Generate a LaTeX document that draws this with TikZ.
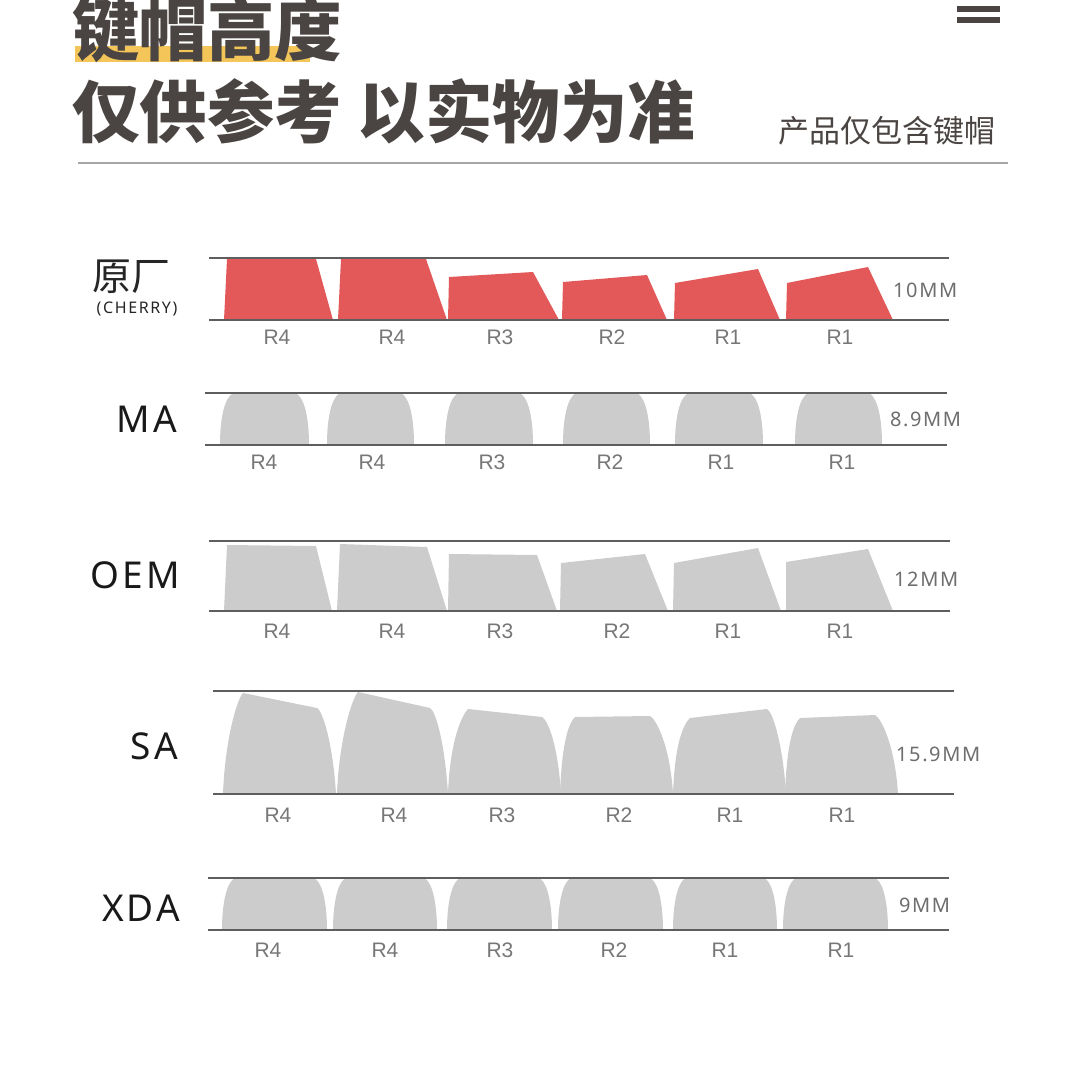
\documentclass[tikz,border=0pt]{standalone}
\usepackage{fontspec}
\setmainfont{Noto Sans}
\newfontfamily\cjk{Noto Sans CJK SC}
\newfontfamily\lab{Liberation Sans}
\newfontfamily\spaced{Noto Sans}[LetterSpace=8]
\newfontfamily\chfont{Noto Sans}[LetterSpace=10]
\newfontfamily\mmfont{Noto Sans}[LetterSpace=8]
\definecolor{titlec}{HTML}{4A4542}
\definecolor{hilite}{HTML}{F4C65A}
\definecolor{keyred}{HTML}{E35858}
\definecolor{keygray}{HTML}{CCCCCC}
\definecolor{rulec}{HTML}{5E5E5E}
\definecolor{labc}{HTML}{777777}
\definecolor{mmc}{HTML}{6E6E6E}
\tikzset{
  rulestyle/.style={draw=rulec,line width=2pt},
  redkey/.style={fill=keyred},
  graykey/.style={fill=keygray},
  rlab/.style={inner sep=0pt,text=labc,font=\lab\fontsize{21}{21}\selectfont},
  mmlab/.style={inner sep=0pt,anchor=west,text=mmc,font=\mmfont\fontsize{20}{20}\selectfont},
  rowname/.style={inner sep=0pt,anchor=east,text=black!90,font=\spaced\fontsize{37}{37}\selectfont},
  titlefont/.style={inner sep=0pt,anchor=west,text=titlec,font=\cjk\bfseries\fontsize{67.5}{67.5}\selectfont},
}
\begin{document}
\begin{tikzpicture}[x=1pt,y=-1pt]
\path[use as bounding box,fill=white] (0,0) rectangle (1080,1080);

% ---------- header ----------
\fill[hilite] (75,46) rectangle (310,62);
\node[titlefont] (t1) at (72,30) {键帽高度};
\node[titlefont] (t2) at (72,111) {仅供参考 以实物为准};
\node[inner sep=0pt,anchor=east,text=titlec,font=\cjk\fontsize{31}{31}\selectfont] (t3) at (996,131) {产品仅包含键帽};
\fill[titlec] (957,6) rectangle (1000,12);
\fill[titlec] (957,17) rectangle (1000,23);
\draw[draw=black!35,line width=1.5pt] (78,163) -- (1008,163);

% ---------- Cherry ----------
\foreach \bl/\tlx/\tly/\trx/\try/\br in {224/227/259/316/259/333, 338/341/259/426/259/447, 448/449/277/533/272/559, 562/563/282/647/275/667, 674/675/283/758/269/780, 786/787/283/868/267/893}{
  \fill[redkey] (\bl,320) -- (\tlx,\tly) -- (\trx,\try) -- (\br,320) -- cycle;
}
\draw[rulestyle] (209,258) -- (949,258);
\draw[rulestyle] (209,320) -- (949,320);
\node[inner sep=0pt,anchor=west,text=black!85,font=\cjk\fontsize{39}{39}\selectfont] (ch1) at (92,277) {原厂};
\node[inner sep=0pt,text=black!85,font=\chfont\fontsize{16}{16}\selectfont] (ch2) at (137,309) {(CHERRY)};
\node[mmlab] (mm1) at (893,290) {10MM};
\foreach \x/\t [count=\i] in {277/R4,392/R4,500/R3,612/R2,728/R1,840/R1}{
  \node[rlab] (c\i) at (\x,337) {\t};
}

% ---------- MA ----------
\foreach \a/\b in {220/309, 327/414, 445/533, 563/650, 675/763, 795/882}{
  \fill[graykey] (\a,445) .. controls (\a,418) and ({\a+0.05*(\b-\a)},399) .. ({\a+0.135*(\b-\a)},394)
    -- ({\b-0.135*(\b-\a)},394) .. controls ({\b-0.05*(\b-\a)},399) and (\b,418) .. (\b,445) -- cycle;
}
\draw[rulestyle] (205,393) -- (947,393);
\draw[rulestyle] (205,445) -- (947,445);
\node[rowname] (ma) at (177,419) {MA};
\node[mmlab] (mm2) at (890,419) {8.9MM};
\foreach \x/\t [count=\i] in {264/R4,372/R4,492/R3,610/R2,721/R1,842/R1}{
  \node[rlab] (m\i) at (\x,462) {\t};
}

% ---------- OEM ----------
\foreach \bl/\tlx/\tly/\trx/\try/\br in {224/227/545/316/546/332, 337/340/544/427/547/447, 448/449/554/537/555/557, 560/561/563/645/554/668, 673/674/563/758/548/781, 786/786/562/868/549/893}{
  \fill[graykey] (\bl,611) -- (\tlx,\tly) -- (\trx,\try) -- (\br,611) -- cycle;
}
\draw[rulestyle] (209,541) -- (950,541);
\draw[rulestyle] (209,611) -- (950,611);
\node[rowname] (oem) at (180,575) {OEM};
\node[mmlab] (mm3) at (894,579) {12MM};
\foreach \x/\t [count=\i] in {277/R4,392/R4,500/R3,617/R2,728/R1,840/R1}{
  \node[rlab] (o\i) at (\x,631) {\t};
}

% ---------- SA ----------
\foreach \bl/\tlx/\tly/\trx/\try/\br in {223/243/693/317/708/336, 337/358/692/430/708/448, 448/468/709/542/717/561, 560/575/717/650/716/673, 673/690/718/767/709/786, 785/800/718/875/715/898}{
  \fill[graykey] (\bl,794) .. controls ({\bl+2},740) and ({\tlx-6},{\tly+6}) .. (\tlx,\tly)
    -- (\trx,\try) .. controls ({\trx+6},{\try+3}) and ({\br-3},745) .. (\br,794) -- cycle;
}
\draw[rulestyle] (213,691) -- (954,691);
\draw[rulestyle] (213,794) -- (954,794);
\node[rowname] (sa) at (178,746) {SA};
\node[mmlab] (mm4) at (896,754) {15.9MM};
\foreach \x/\t [count=\i] in {278/R4,394/R4,502/R3,619/R2,730/R1,842/R1}{
  \node[rlab] (s\i) at (\x,815) {\t};
}

% ---------- XDA ----------
\foreach \a/\b in {222/327, 333/437, 447/552, 558/663, 673/777, 783/888}{
  \fill[graykey] (\a,930) .. controls (\a,905) and ({\a+0.04*(\b-\a)},884) .. ({\a+0.11*(\b-\a)},879)
    -- ({\b-0.11*(\b-\a)},879) .. controls ({\b-0.04*(\b-\a)},884) and (\b,905) .. (\b,930) -- cycle;
}
\draw[rulestyle] (208,878) -- (949,878);
\draw[rulestyle] (208,930) -- (949,930);
\node[rowname] (xda) at (180,908) {XDA};
\node[mmlab] (mm5) at (899,905) {9MM};
\foreach \x/\t [count=\i] in {268/R4,385/R4,500/R3,614/R2,725/R1,841/R1}{
  \node[rlab] (x\i) at (\x,950) {\t};
}
\end{tikzpicture}
\end{document}
